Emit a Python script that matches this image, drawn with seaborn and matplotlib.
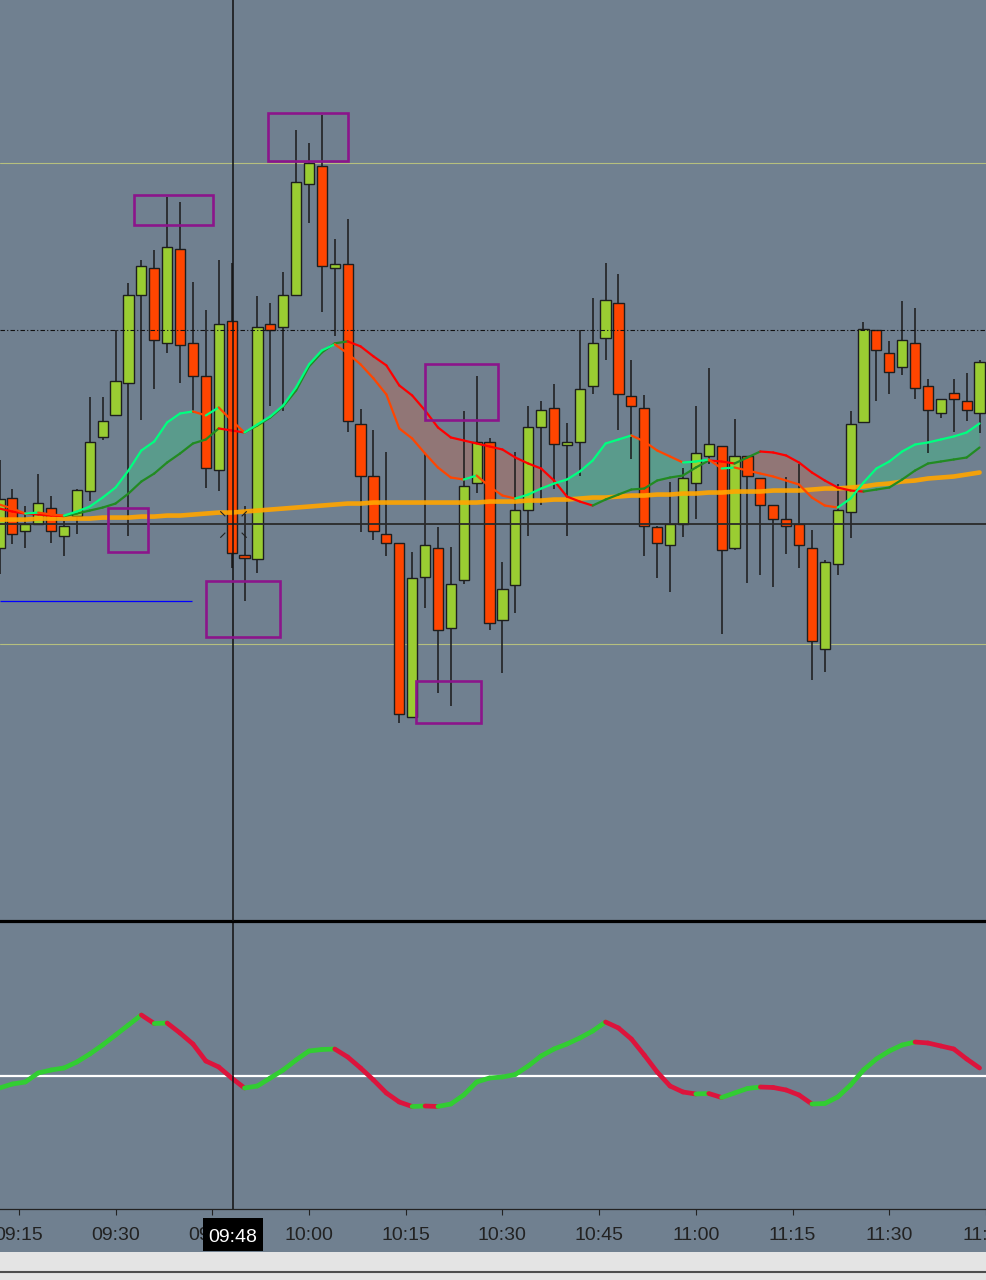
import numpy as np
import pandas as pd
import matplotlib
matplotlib.use("Agg")
import matplotlib.pyplot as plt
import seaborn as sns
from matplotlib.collections import LineCollection
from matplotlib.patches import Rectangle
from matplotlib.path import Path
import matplotlib.transforms as mtransforms

sns.set_theme(style="white")
plt.rcParams["font.family"] = ["Liberation Sans", "DejaVu Sans"]

# ---------------- data ----------------
first_bar = "09:12"
bar_step_min = 2

opens = [453, 503, 470, 477, 493, 465, 485, 510, 563, 585,
         617, 705, 732, 657, 751, 657, 624, 531, 679, 446,
         442, 676, 673, 705, 816, 834, 732, 736, 576, 525,
         467, 458, 284, 424, 453, 373, 421, 518, 558, 381,
         416, 491, 573, 592, 555, 558, 614, 662, 697, 604,
         592, 474, 456, 477, 518, 544, 554, 453, 544, 523,
         496, 482, 477, 453, 352, 437, 489, 578, 670, 647,
         633, 657, 614, 587, 607, 599, 587]
highs = [540, 512, 495, 527, 505, 480, 512, 603, 603, 670,
         717, 740, 750, 803, 798, 718, 690, 740, 737, 495,
         704, 697, 728, 870, 857, 885, 761, 781, 591, 570,
         548, 458, 449, 546, 474, 454, 589, 624, 562, 439,
         548, 594, 599, 616, 577, 670, 702, 737, 726, 640,
         605, 475, 519, 533, 594, 632, 554, 581, 544, 523,
         496, 524, 537, 471, 441, 517, 589, 678, 670, 659,
         699, 692, 621, 601, 621, 627, 640]
lows = [427, 457, 453, 477, 458, 445, 467, 500, 560, 585,
        465, 580, 611, 647, 617, 587, 513, 510, 433, 400,
        428, 594, 589, 705, 777, 688, 664, 568, 469, 461,
        445, 278, 284, 393, 308, 295, 417, 508, 371, 328,
        388, 465, 496, 512, 465, 525, 606, 640, 570, 541,
        445, 423, 409, 464, 482, 537, 367, 451, 418, 426,
        414, 447, 433, 321, 329, 426, 463, 578, 599, 606,
        625, 601, 547, 582, 568, 579, 567]
closes = [502, 467, 477, 498, 470, 475, 511, 558, 579, 619,
          705, 734, 660, 753, 655, 624, 533, 676, 448, 443,
          673, 670, 705, 818, 837, 734, 736, 579, 525, 470,
          458, 287, 423, 456, 371, 417, 515, 558, 378, 412,
          491, 573, 590, 556, 558, 611, 657, 700, 606, 594,
          475, 458, 477, 523, 547, 556, 451, 544, 525, 496,
          482, 475, 456, 360, 439, 491, 576, 671, 650, 628,
          660, 612, 590, 601, 601, 590, 638]
fast_ema = [496, 492, 487, 488, 486, 485, 489, 494, 503, 513,
            530, 550, 559, 578, 587, 589, 585, 593, 580, 568,
            576, 584, 595, 613, 636, 650, 656, 647, 636, 622,
            606, 572, 562, 547, 533, 523, 521, 525, 514, 505,
            502, 506, 512, 517, 521, 529, 540, 557, 561, 565,
            559, 550, 544, 538, 539, 541, 532, 533, 530, 527,
            524, 520, 516, 503, 495, 493, 502, 518, 532, 539,
            549, 556, 558, 561, 564, 568, 577]
slow_ema = [492, 489, 487, 486, 485, 484.5, 487, 490, 493, 497,
            507, 519, 527, 538, 547, 557, 561, 572, 570, 568,
            575, 583, 594, 610, 634, 648, 657, 659, 654, 644,
            635, 615, 605, 590, 573, 563, 560, 557, 554, 551,
            543, 537, 532, 520, 504, 499, 495, 501, 506, 511,
            512, 520, 523, 525, 533, 540, 539, 537, 543, 549,
            548, 545, 538, 528, 520, 513, 510, 509, 511, 513,
            521, 530, 537, 539, 541, 543, 553]
trend_line = [481, 481, 481, 482, 482, 482, 482, 482, 483, 483,
              483, 484, 484, 485, 485, 486, 487, 488, 488, 489,
              490, 491, 492, 493, 494, 495, 496, 497, 497, 498,
              498, 498, 498, 498, 498, 498, 498, 498, 499, 499,
              499, 500, 500, 501, 501, 502, 503, 503, 504, 505,
              505, 506, 506, 507, 507, 508, 508, 509, 509, 509,
              510, 510, 510, 511, 512, 512, 513, 514, 516, 517,
              519, 520, 522, 523, 524, 526, 528]
oscillator = [-1.2, -0.8, -0.6, 0.3, 0.6, 0.8, 1.4, 2.2, 3.1, 4.1,
              5.1, 6.1, 5.25, 5.3, 4.3, 3.2, 1.5, 0.9, -0.2, -1.2,
              -1.0, -0.2, 0.6, 1.6, 2.5, 2.65, 2.7, 1.9, 0.8, -0.4,
              -1.7, -2.6, -3.05, -3.0, -3.05, -2.8, -1.9, -0.6, -0.2, -0.1,
              0.15, 1.0, 2.0, 2.7, 3.2, 3.8, 4.5, 5.4, 4.8, 3.7,
              2.1, 0.4, -1.0, -1.6, -1.8, -1.75, -2.15, -1.7, -1.25, -1.1,
              -1.15, -1.4, -1.9, -2.8, -2.75, -2.1, -0.9, 0.6, 1.7, 2.5,
              3.1, 3.4, 3.3, 3.0, 2.7, 1.7, 0.8]

tick_times = ["09:15", "09:30", "09:45", "10:00", "10:15", "10:30",
              "10:45", "11:00", "11:15", "11:30", "11:45"]
cursor_time_label = "09:48"
cursor_minute = 48.25
cursor_price = 477
dotted_level = 670
upper_level = 837
lower_level = 357
blue_level = 400
blue_end_minute = 41.9
# (start minute after 09:00, end minute, low price, high price)
boxes = [(32.8, 45.1, 775, 805),
         (53.6, 66.0, 839, 887),
         (28.8, 35.1, 449, 493),
         (44.05, 55.5, 364, 420),
         (78.0, 89.3, 580, 636),
         (76.6, 86.7, 278, 320)]


def to_min(s):
    h, m = s.split(":")
    return (int(h) - 9) * 60 + int(m)


df = pd.DataFrame({"open": opens, "high": highs, "low": lows, "close": closes,
                   "fast": fast_ema, "slow": slow_ema, "trend": trend_line,
                   "osc": oscillator})
df["t"] = to_min(first_bar) + bar_step_min * np.arange(len(df))

# ---------------- figure ----------------
BG = "#708090"
fig = plt.figure(figsize=(9.86, 12.8), dpi=100, facecolor=BG)
ax2 = fig.add_axes([0, 0.05547, 1, 0.225])
ax1 = fig.add_axes([0, 0.28047, 1, 0.71953], sharex=ax2)
ax1.set_zorder(2)
ax2.set_zorder(1)
for ax in (ax1, ax2):
    ax.set_facecolor(BG)
    for sp in ax.spines.values():
        sp.set_visible(False)

xlim = (12.077, 164.36)
ax1.set_xlim(*xlim)
ax1.set_ylim(80, 1000)
ax2.set_ylim(-13.3, 15.5)

t = df["t"].values
f = df["fast"].values.astype(float)
s = df["slow"].values.astype(float)

# cloud fill
ax1.fill_between(t, f, s, where=f >= s, interpolate=True, color="#5a9b8c", linewidth=0, zorder=1)
ax1.fill_between(t, f, s, where=f < s, interpolate=True, color="#917676", linewidth=0, zorder=1)

# reference lines behind candles
ax1.axhline(upper_level, color="#b6bf7e", lw=0.8, zorder=0.8)
ax1.axhline(lower_level, color="#b6bf7e", lw=0.8, zorder=0.8)
ax1.hlines(blue_level, xlim[0], blue_end_minute, color="#0000ff", lw=0.9, zorder=0.8)

# candles
bull = df["close"] >= df["open"]
body_lo = np.minimum(df["open"], df["close"])
body_h = np.maximum(np.abs(df["close"] - df["open"]), 2.5)
ax1.vlines(t, df["low"], df["high"], color="#1a1a1a", linewidth=1.1, zorder=2)
ax1.bar(t, body_h, bottom=body_lo, width=1.58,
        color=np.where(bull, "#9acd32", "#ff4500"),
        edgecolor="#1e1e1e", linewidth=1.0, zorder=3)

# long trend line
sns.lineplot(data=df, x="t", y="trend", ax=ax1, color="#ffa500", linewidth=3.3,
             alpha=0.92, estimator=None, legend=False, zorder=4)


def slope_line(ax, x, y, up, down, lw, z, cap="round"):
    pts = np.column_stack([x, y])
    segs = np.stack([pts[:-1], pts[1:]], axis=1)
    cols = [up if y[i + 1] >= y[i] else down for i in range(len(y) - 1)]
    lc = LineCollection(segs, colors=cols, linewidths=lw, zorder=z, capstyle=cap)
    ax.add_collection(lc)


slope_line(ax1, t, s, "#228b22", "#ff0000", 1.6, 5)
slope_line(ax1, t, f, "#00ff7f", "#ff4500", 1.6, 5.1)

# dash-dot level and crosshair
ax1.axhline(dotted_level, color="#111111", lw=0.8, linestyle=(0, (4, 2, 1, 2)), zorder=6)
ax1.axhline(cursor_price, color="#2a2a2a", lw=1.3, zorder=6)
ax1.axvline(cursor_minute, color="#111111", lw=1.1, zorder=7)
ax2.axvline(cursor_minute, color="#111111", lw=1.1, zorder=7)

# cursor marker: an X with the centre removed
mverts = [(-1, -1), (-0.62, -0.62), (1, -1), (0.62, -0.62),
          (-1, 1), (-0.62, 0.62), (1, 1), (0.62, 0.62)]
mcodes = [Path.MOVETO, Path.LINETO] * 4
ax1.plot([cursor_minute], [cursor_price], marker=Path(mverts, mcodes), markersize=19,
         markerfacecolor="none", markeredgecolor="#222222", markeredgewidth=0.8,
         linestyle="none", zorder=7)

# purple boxes
for (t0, t1, lo, hi) in boxes:
    ax1.add_patch(Rectangle((t0, lo), t1 - t0, hi - lo, fill=False,
                            edgecolor="#8b158b", linewidth=1.9, zorder=8))

ax1.spines["bottom"].set_visible(True)
ax1.spines["bottom"].set_color("#000000")
ax1.spines["bottom"].set_linewidth(2.3)
ax1.tick_params(axis="both", which="both", bottom=False, left=False,
                labelbottom=False, labelleft=False)

# ---------------- oscillator panel ----------------
ax2.axhline(0, color="white", lw=1.6, zorder=2)
slope_line(ax2, t, df["osc"].values.astype(float), "#32cd32", "#dc143c", 3.4, 3)

ax2.spines["bottom"].set_visible(True)
ax2.spines["bottom"].set_color("#222222")
ax2.spines["bottom"].set_linewidth(0.9)
ax2.set_xticks([to_min(x) for x in tick_times])
ax2.set_xticklabels(tick_times)
ax2.tick_params(axis="x", bottom=True, direction="out", length=4.3, width=0.8,
                colors="#222222", labelsize=14, pad=9)
ax2.tick_params(axis="y", left=False, labelleft=False)
ax2.set_xlabel("")
ax2.set_ylabel("")
ax1.set_xlabel("")
ax1.set_ylabel("")

# cursor time label
blend = mtransforms.blended_transform_factory(ax2.transData, fig.transFigure)
fig.add_artist(Rectangle((43.58, 0.02266), 52.85 - 43.58, 0.04844 - 0.02266,
                         transform=blend, facecolor="black", edgecolor="none", zorder=5))
fig.add_artist(plt.Text(48.22, 0.02969, cursor_time_label, transform=blend, color="white",
                        fontsize=14, ha="center", va="baseline", zorder=6,
                        family=["Liberation Sans", "DejaVu Sans"]))

# bottom strip
fig.add_artist(Rectangle((0, 0), 1, 0.021875, transform=fig.transFigure,
                         facecolor="#e4e4e4", edgecolor="none", zorder=1))
fig.add_artist(plt.Line2D([0, 1], [0.00586, 0.00586], transform=fig.transFigure,
                          color="#4d4d4d", lw=1.5, zorder=2))

fig.savefig("out.png", dpi=100, facecolor=BG)
